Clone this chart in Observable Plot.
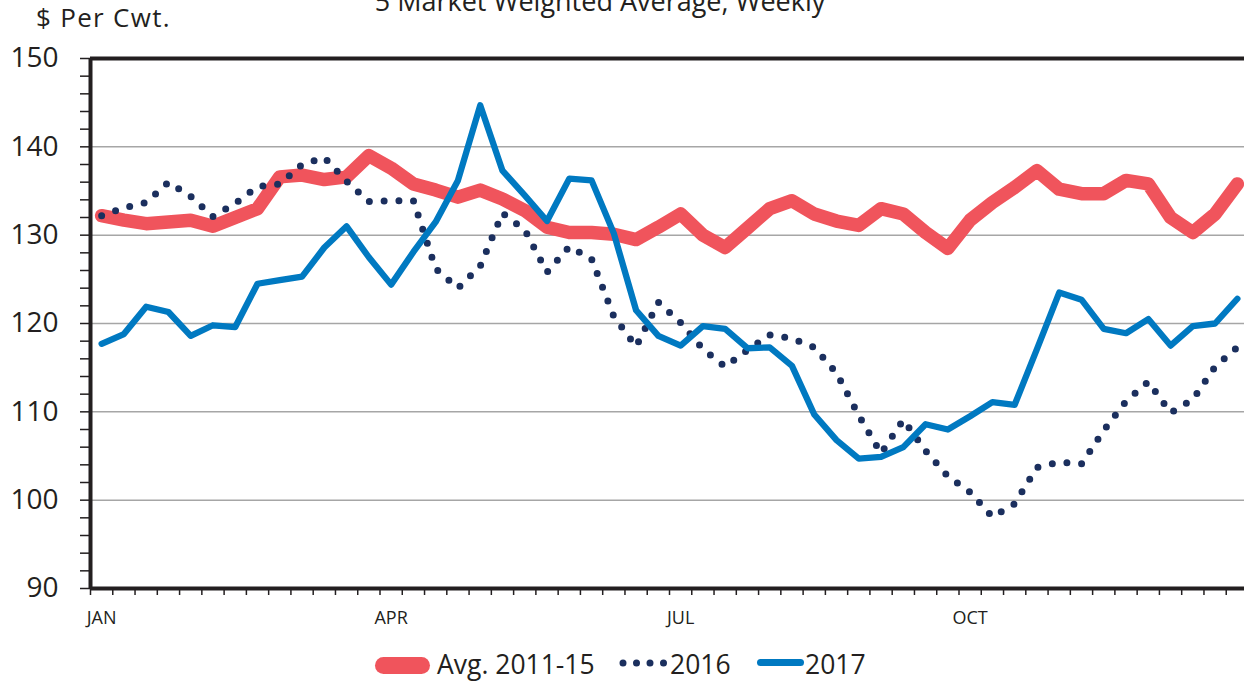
<!DOCTYPE html>
<html><head><meta charset="utf-8">
<script src="https://cdn.jsdelivr.net/npm/d3@7"></script>
<script src="https://cdn.jsdelivr.net/npm/@observablehq/plot@0.6"></script>
<style>
html,body{margin:0;padding:0;background:#fff;overflow:hidden;width:1244px;height:682px}
#wrap{position:relative;width:1244px;height:682px;font-family:"Open Sans",sans-serif;color:#231f20;overflow:hidden}
#chart{position:absolute;left:0;top:0;width:1250px}
#chart svg{max-width:none !important}
.t{position:absolute;white-space:nowrap;line-height:1}
.sw{position:absolute}
</style></head><body>
<div id="wrap">
<div id="chart"></div>
<div class="t" id="title" style="left:0;width:1200px;text-align:center;top:-13px;font-size:27px">5 Market Weighted Average, Weekly</div>
<div class="t" id="unit" style="left:36px;top:4px;font-size:26px;letter-spacing:1.3px">$ Per Cwt.</div>
<div id="legend"></div>
</div>
<script>
const weeks = [1,2,3,4,5,6,7,8,9,10,11,12,13,14,15,16,17,18,19,20,21,22,23,24,25,26,27,28,29,30,31,32,33,34,35,36,37,38,39,40,41,42,43,44,45,46,47,48,49,50,51,52];
const avg2011_15 = [132.2,131.7,131.3,131.5,131.7,131.0,132.0,133.0,136.6,136.8,136.3,136.6,139.0,137.6,135.8,135.1,134.3,135.1,134.1,132.8,130.9,130.3,130.3,130.1,129.5,130.9,132.4,130.0,128.6,130.8,133.0,133.9,132.4,131.6,131.1,133.0,132.4,130.3,128.5,131.7,133.7,135.4,137.3,135.2,134.7,134.7,136.2,135.8,132.0,130.3,132.4,135.8];
const y2016 = [132.2,133.1,133.7,136.0,134.4,132.1,133.6,135.5,135.8,138.0,138.8,136.1,133.8,133.9,133.9,126.2,124.0,126.5,132.5,130.6,125.8,128.7,127.3,120.8,117.4,122.4,120.1,117.1,115.1,117.0,118.7,118.3,117.3,114.4,109.6,105.3,109.1,105.6,102.7,100.9,98.1,99.6,103.7,104.3,104.1,107.9,111.2,113.4,109.9,111.4,115.1,117.3];
const y2017 = [117.7,118.8,121.9,121.3,118.6,119.8,119.6,124.5,124.9,125.3,128.6,131.0,127.5,124.4,128.1,131.5,136.2,144.7,137.3,134.5,131.6,136.4,136.2,130.2,121.5,118.6,117.5,119.7,119.4,117.2,117.3,115.2,109.7,106.8,104.7,104.9,106.0,108.6,108.0,109.5,111.1,110.8,117.1,123.5,122.7,119.4,118.9,120.5,117.5,119.7,120.0,122.8];
const monthLabels = ["JAN","APR","JUL","OCT"];
const monthWeeks = [1,14,27,40];
const yTicks = [90,92,94,96,98,100,102,104,106,108,110,112,114,116,118,120,122,124,126,128,130,132,134,136,138,140,142,144,146,148,150];
const yLabels = [90,100,110,120,130,140,150];
const gridValues = [100,110,120,130,140];
const seriesNames = ["Avg. 2011-15","2016","2017"];
const colors = {avg:"#f0545c", s2016:"#1b2f5e", s2017:"#0079c1"};
const ink = "#231f20";

const toRows = vals => weeks.map((w,i) => ({week:w, value:vals[i]}));
const xPos = d => d.week - 0.5;

const chart = Plot.plot({
  width: 1250, height: 640,
  marginLeft: 90, marginRight: 2, marginTop: 58, marginBottom: 52,
  style: {fontFamily: '"Open Sans", sans-serif', color: ink, background: "transparent", maxWidth: "none"},
  x: {domain: [0, 52]},
  y: {domain: [90, 150]},
  marks: [
    Plot.gridY(gridValues, {stroke: "#a6a6a6", strokeOpacity: 1, strokeWidth: 1.5}),
    Plot.line(toRows(avg2011_15), {x: xPos, y: "value", stroke: colors.avg, strokeWidth: 13.5, strokeLinejoin: "round", strokeLinecap: "round"}),
    Plot.line(toRows(y2016), {x: xPos, y: "value", stroke: colors.s2016, strokeWidth: 7, strokeDasharray: "0 14.8", strokeLinecap: "round", strokeLinejoin: "round"}),
    Plot.line(toRows(y2017), {x: xPos, y: "value", stroke: colors.s2017, strokeWidth: 6.3, strokeLinejoin: "round", strokeLinecap: "round"}),
    Plot.axisY({ticks: yTicks, tickSize: 10, tickFormat: () => "", stroke: ink, strokeWidth: 1.5, label: null}),
    Plot.text(yLabels, {x: () => 0, y: d => d, text: d => String(d), dx: -32, textAnchor: "end", fontSize: 28, fill: ink}),
    Plot.axisX({ticks: d3.range(0, 53), tickSize: 7, tickFormat: () => "", stroke: ink, strokeWidth: 1.5, label: null}),
    Plot.axisX({ticks: monthWeeks.map(w => w - 0.5), tickSize: 0, tickPadding: 23, fontSize: 18,
      tickFormat: (d, i) => monthLabels[i], label: null}),
    Plot.ruleY([150], {stroke: ink, strokeWidth: 4}),
    Plot.ruleY([90], {stroke: ink, strokeWidth: 4}),
    Plot.ruleX([0], {stroke: ink, strokeWidth: 4, y1: 90, y2: 150})
  ]
});
document.getElementById("chart").appendChild(chart);

// legend
const lg = document.getElementById("legend");
function add(html){ lg.insertAdjacentHTML("beforeend", html); }
add(`<div class="sw" style="left:375px;top:657px;width:55px;height:17px;border-radius:8.5px;background:${colors.avg}"></div>`);
add(`<div class="t" style="left:437px;top:651px;font-size:26.5px">${seriesNames[0]}</div>`);
add(`<svg class="sw" style="left:615px;top:655px" width="56" height="16"><line x1="8" x2="50" y1="8" y2="8" stroke="${colors.s2016}" stroke-width="7" stroke-linecap="round" stroke-dasharray="0 13.5"/></svg>`);
add(`<div class="t" style="left:670px;top:651px;font-size:26.5px">${seriesNames[1]}</div>`);
add(`<div class="sw" style="left:757px;top:659px;width:47px;height:7px;border-radius:3.5px;background:${colors.s2017}"></div>`);
add(`<div class="t" style="left:805px;top:651px;font-size:26.5px">${seriesNames[2]}</div>`);
</script>
</body></html>
